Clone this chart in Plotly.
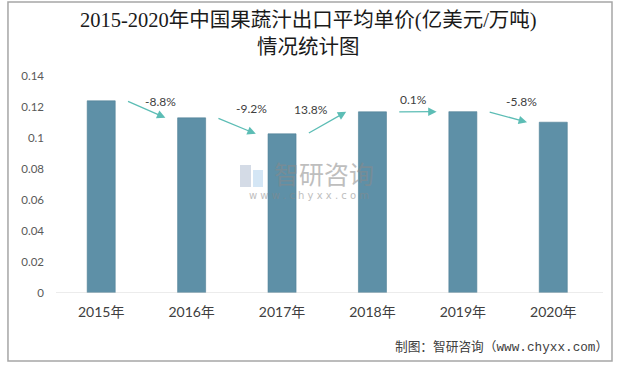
import plotly.graph_objects as go

years = ["2015年", "2016年", "2017年", "2018年", "2019年", "2020年"]
prices = [0.124, 0.113, 0.1027, 0.1169, 0.117, 0.1102]
growth_labels = ["-8.8%", "-9.2%", "13.8%", "0.1%", "-5.8%"]
y_tickvals = [0, 0.02, 0.04, 0.06, 0.08, 0.1, 0.12, 0.14]
y_ticktext = ["0", "0.02", "0.04", "0.06", "0.08", "0.1", "0.12", "0.14"]

title_line1 = "2015-2020年中国果蔬汁出口平均单价(亿美元/万吨)"
title_line2 = "情况统计图"
source_text = "制图：智研咨询（www.chyxx.com）"

# label offsets (pixels) relative to arrow midpoint
label_dx = [15, 15, -16, -4, 14]
label_dy = [8, 17, 13, 12, 15]

BAR = "#5E90A7"
ARROW = "#5CBDB5"
TXT = "#404040"
LAT = "Lato, 'Noto Sans CJK SC', sans-serif"
CJK = "'Noto Sans CJK SC', sans-serif"
TFONT = "'Liberation Serif', 'Noto Sans CJK SC', serif"
SRCFONT = "'Liberation Mono', 'Noto Sans CJK SC', monospace"

fig = go.Figure()
fig.add_trace(go.Bar(
    x=list(range(len(years))), y=prices,
    marker=dict(color=BAR, line=dict(color="#4F7F95", width=0.6)),
    width=0.31, hoverinfo="skip",
))

ann = []
for i, lab in enumerate(growth_labels):
    x0, y0 = i + 0.28, prices[i]
    x1, y1 = i + 1 - 0.29, prices[i + 1]
    ann.append(dict(x=x1, y=y1, ax=x0, ay=y0, xref="x", yref="y", axref="x", ayref="y",
                    text="", showarrow=True, arrowhead=2, arrowsize=1.3, arrowwidth=1.3,
                    arrowcolor=ARROW, standoff=0, startstandoff=0))
    ann.append(dict(x=(x0 + x1) / 2, y=(y0 + y1) / 2, xref="x", yref="y", text=lab,
                    showarrow=False, xshift=label_dx[i], yshift=label_dy[i],
                    font=dict(family=LAT, size=12, color=TXT)))

# title
ann.append(dict(x=0.4625, y=(293 - 20) / 217, xref="paper", yref="paper", text=title_line1,
                showarrow=False, xanchor="center", yanchor="middle",
                font=dict(family=TFONT, size=20.5, color="#1a1a1a")))
ann.append(dict(x=0.4625, y=(293 - 47) / 217, xref="paper", yref="paper", text=title_line2,
                showarrow=False, xanchor="center", yanchor="middle",
                font=dict(family=TFONT, size=20.5, color="#1a1a1a")))

# watermark
ann.append(dict(x=0.49, y=0.553, xref="paper", yref="paper", text="智研咨询", showarrow=False,
                font=dict(family=CJK, size=25, color="#8a8a8a"), opacity=0.55))
ann.append(dict(x=0.4625, y=0.4516, xref="paper", yref="paper", text="w w w . c h y x x . c o m",
                showarrow=False, font=dict(family="'DejaVu Sans', sans-serif", size=10, color="#8a8a8a"),
                opacity=0.55))
# source
ann.append(dict(x=(602 - 56) / 547, y=(293 - 347) / 217, xref="paper", yref="paper",
                xanchor="right", yanchor="middle", xshift=8,
                text=source_text, showarrow=False, font=dict(family=SRCFONT, size=12.7, color=TXT)))

shapes = [
    dict(type="rect", xref="paper", yref="paper", x0=-0.0878, x1=(612 - 56) / 547, y0=(293 - 361) / 217,
         y1=1.341, line=dict(color="#a6a6a6", width=1.5), fillcolor="rgba(0,0,0,0)", layer="below"),
    # watermark logo approximation
    dict(type="rect", xref="paper", yref="paper", x0=(240 - 56) / 547, x1=(251 - 56) / 547,
         y0=(293 - 187) / 217, y1=(293 - 165) / 217, line=dict(width=0),
         fillcolor="rgba(160,175,200,0.45)"),
    dict(type="rect", xref="paper", yref="paper", x0=(253 - 56) / 547, x1=(263 - 56) / 547,
         y0=(293 - 187) / 217, y1=(293 - 170) / 217, line=dict(width=0),
         fillcolor="rgba(170,205,235,0.5)"),
]

fig.update_layout(
    width=618, height=366,
    margin=dict(l=56, r=15, t=76, b=73),
    paper_bgcolor="white", plot_bgcolor="white",
    showlegend=False,
    xaxis=dict(range=[-0.5, 5.55], tickvals=list(range(len(years))), ticktext=years,
               showgrid=False, zeroline=False, showline=False, ticks="",
               tickfont=dict(family=LAT, size=14, color=TXT), ticklabelstandoff=9),
    yaxis=dict(range=[0, 0.14], tickvals=y_tickvals, ticktext=y_ticktext,
               showgrid=False, zeroline=False, showline=False, ticks="",
               tickfont=dict(family=LAT, size=11.5, color="#595959"), ticklabelstandoff=11),
    annotations=ann, shapes=shapes,
)
fig.add_shape(type="line", xref="paper", yref="y", x0=0, x1=1, y0=0, y1=0,
              line=dict(color="#d9d9d9", width=1.2))

fig.write_html("out.html", config={"displayModeBar": False},
               post_script="document.body.style.margin='0px';document.body.style.overflow='hidden';")
